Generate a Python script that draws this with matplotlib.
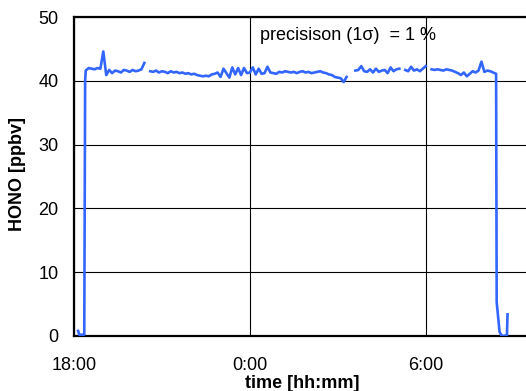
import numpy as np
import matplotlib
matplotlib.use("Agg")
import matplotlib.pyplot as plt

plt.rcParams["font.family"] = ["Liberation Sans", "DejaVu Sans"]

# time in hours after 18:00
HEAD_T = [0.14, 0.18, 0.35, 0.38]
HEAD_V = [0.8, 0.2, 0.2, 40.0]

PLATEAU_T0, PLATEAU_T1 = 0.4, 14.4   # 6-minute readings
PLATEAU_V = [
    41.6, 42.0, 41.9, 41.8, 42.0, 41.9, 44.6, 40.9, 41.7, 41.2,
    41.6, 41.5, 41.3, 41.7, 41.6, 41.4, 41.7, 41.5, 41.6, 41.8,
    42.8, np.nan, 41.5, 41.4, 41.6, 41.3, 41.5, 41.4, 41.2, 41.5,
    41.3, 41.4, 41.2, 41.3, 41.1, 41.2, 41.0, 41.1, 40.9, 40.8,
    40.7, 40.8, 40.7, 41.0, 41.1, 41.3, 40.6, 41.9, 41.2, 40.5,
    42.1, 41.0, 42.0, 40.9, 42.0, 41.2, 41.3, 42.1, 41.0, 41.9,
    41.1, 41.2, 42.2, 41.3, 41.2, 41.1, 41.4, 41.3, 41.5, 41.4,
    41.3, 41.4, 41.2, 41.4, 41.5, 41.3, 41.4, 41.2, 41.3, 41.4,
    41.5, 41.3, 41.2, 41.0, 40.9, 40.6, 40.5, 40.4, 39.8, 40.6,
    np.nan, np.nan, 41.6, 41.7, 42.3, 41.5, 41.4, 41.8, 41.3, 41.9,
    41.4, 41.6, 41.7, 41.2, 42.1, 41.5, 41.8, 41.9, np.nan, 41.7,
    41.5, 42.2, 41.6, 41.8, 41.5, 41.9, 42.3, np.nan, 41.8, 41.7,
    41.8, 41.7, 41.6, 41.8, 41.7, 41.6, 41.4, 41.2, 40.9, 41.3,
    40.7, 41.1, 41.5, 41.3, 41.6, 43.0, 41.4, 41.6, 41.5, 41.3,
    41.1,
]

TAIL_T = [14.42, 14.52, 14.60, 14.77, 14.79]
TAIL_V = [5.3, 0.6, 0.0, 0.1, 3.4]

XTICKS = [0, 6, 12]
XTICK_LABELS = ["18:00", "0:00", "6:00"]
YTICKS = [0, 10, 20, 30, 40, 50]

plateau_t = np.linspace(PLATEAU_T0, PLATEAU_T1, len(PLATEAU_V))
t = np.concatenate([HEAD_T, plateau_t, TAIL_T])
v = np.concatenate([HEAD_V, PLATEAU_V, TAIL_V])

W, H = 526, 391
fig = plt.figure(figsize=(W / 100, H / 100), dpi=100)
left, right_px, top, bottom = 74, 543, 17, 336
ax = fig.add_axes([left / W, (H - bottom) / H, (right_px - left) / W, (bottom - top) / H])

ax.plot(t, v, color="#3366FF", lw=1.9, zorder=3)

ax.set_xlim(0, 16)
ax.set_ylim(0, 50)
ax.set_xticks(XTICKS)
ax.set_xticklabels(XTICK_LABELS)
ax.set_yticks(YTICKS)
ax.tick_params(length=0, labelsize=13)
ax.tick_params(axis="x", pad=15)
ax.tick_params(axis="y", pad=11)
ax.grid(True, color="black", lw=0.8, zorder=1)

for side in ["left", "bottom", "top"]:
    ax.spines[side].set_linewidth(1.6)
ax.spines["right"].set_visible(False)

# y label sits close to the tick numbers
fig.text(18 / W, 1 - 174 / H, "HONO [ppbv]", rotation=90, ha="center", va="center",
         fontsize=13, fontweight="bold")
fig.text(302 / W, 1 - 383 / H, "time [hh:mm]", ha="center", va="center",
         fontsize=13, fontweight="bold")
fig.text(260 / W, 1 - 35 / H, "precisison (1\u03c3)  = 1 %", ha="left", va="center",
         fontsize=13)

fig.savefig("out.png", dpi=100)
